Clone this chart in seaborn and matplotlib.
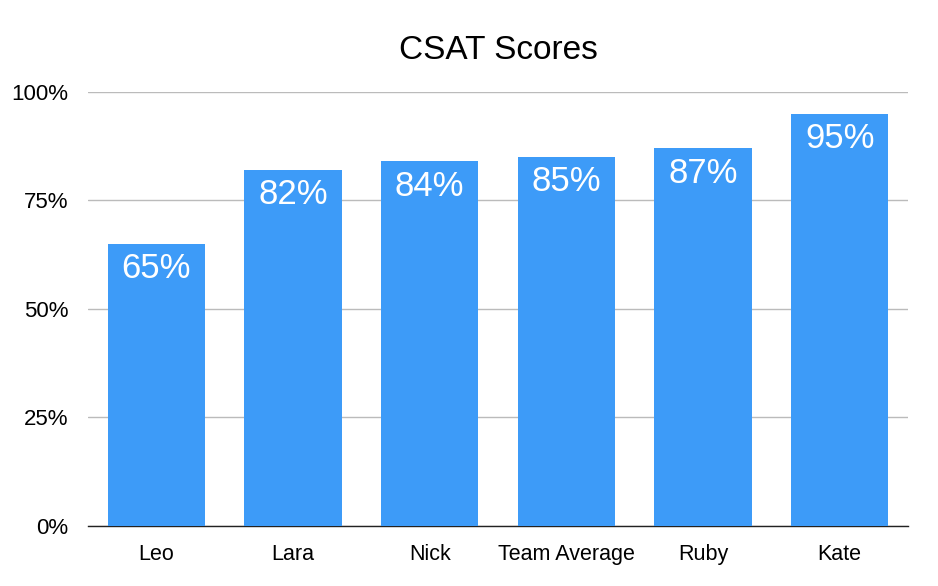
import matplotlib
matplotlib.use('Agg')
import matplotlib.pyplot as plt
import seaborn as sns
import pandas as pd

names = ['Leo', 'Lara', 'Nick', 'Team Average', 'Ruby', 'Kate']
scores = [65, 82, 84, 85, 87, 95]
y_ticks = [0, 25, 50, 75, 100]
y_tick_labels = ['0%', '25%', '50%', '75%', '100%']

sns.set_style('white')
plt.rcParams['font.family'] = ['Liberation Sans', 'DejaVu Sans']

df = pd.DataFrame({'name': names, 'score': scores})

fig = plt.figure(figsize=(9.38, 5.86), dpi=100)
ax = fig.add_axes([0.0938, 0.1024, 0.8742, 0.7406])

sns.barplot(data=df, x='name', y='score', color='#3D9BF8', saturation=1,
            width=0.71, linewidth=0, ax=ax, zorder=3)

# percentage labels sit just inside the top of each bar
for i, v in enumerate(scores):
    ax.annotate(f'{v}%', (i, v), xytext=(0, -6), textcoords='offset points',
                ha='center', va='top', color='white', fontsize=25, zorder=4)

ax.set_ylim(0, 100)
ax.set_xlim(-0.5, len(names) - 0.5)
ax.set_yticks(y_ticks)
ax.set_yticklabels(y_tick_labels)
ax.yaxis.grid(True, color='#bbbbbb', linewidth=1, zorder=0)
ax.set_axisbelow(True)
ax.tick_params(axis='y', labelsize=16, length=0, pad=14, labelcolor='black')
ax.tick_params(axis='x', labelsize=15.5, length=0, pad=13, labelcolor='black')
ax.set_xlabel('')
ax.set_ylabel('')
for side in ['top', 'right', 'left']:
    ax.spines[side].set_visible(False)
ax.spines['bottom'].set_color('#222222')
ax.spines['bottom'].set_linewidth(1)

ax.set_title('CSAT Scores', fontsize=24, color='black', pad=24)

fig.savefig('out.png', dpi=100)
